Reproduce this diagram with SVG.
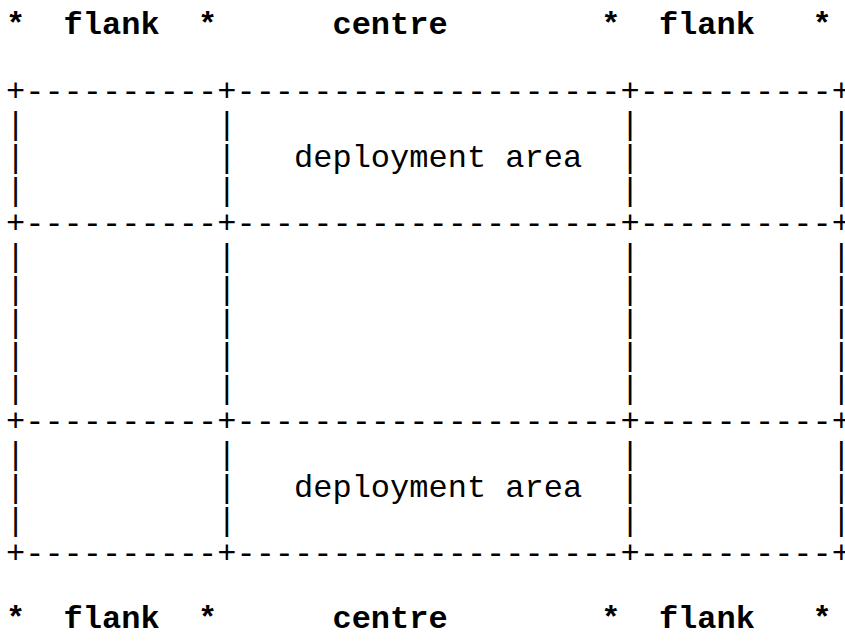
<svg xmlns="http://www.w3.org/2000/svg" width="845" height="641" viewBox="0 0 845 641">
<style>
text { font-family: "Liberation Mono", "Courier New", monospace; font-size: 32px; fill: #000; white-space: pre; }
.b { font-weight: bold; }
</style>
<rect x="0" y="0" width="845" height="641" fill="#fff"/>
<g id="header" xml:space="preserve">
<text class="b" x="6" y="34">*  flank  *      centre        *  flank   *</text>
</g>
<g id="grid" xml:space="preserve">
<text x="6" y="101">+----------+--------------------+----------+</text>
<text x="6" y="134">|          |                    |          |</text>
<text x="6" y="167">|          |   deployment area  |          |</text>
<text x="6" y="200">|          |                    |          |</text>
<text x="6" y="233">+----------+--------------------+----------+</text>
<text x="6" y="266">|          |                    |          |</text>
<text x="6" y="299">|          |                    |          |</text>
<text x="6" y="332">|          |                    |          |</text>
<text x="6" y="365">|          |                    |          |</text>
<text x="6" y="398">|          |                    |          |</text>
<text x="6" y="431">+----------+--------------------+----------+</text>
<text x="6" y="464">|          |                    |          |</text>
<text x="6" y="497">|          |   deployment area  |          |</text>
<text x="6" y="530">|          |                    |          |</text>
<text x="6" y="563">+----------+--------------------+----------+</text>
</g>
<g id="footer" xml:space="preserve">
<text class="b" x="6" y="628">*  flank  *      centre        *  flank   *</text>
</g>
</svg>
